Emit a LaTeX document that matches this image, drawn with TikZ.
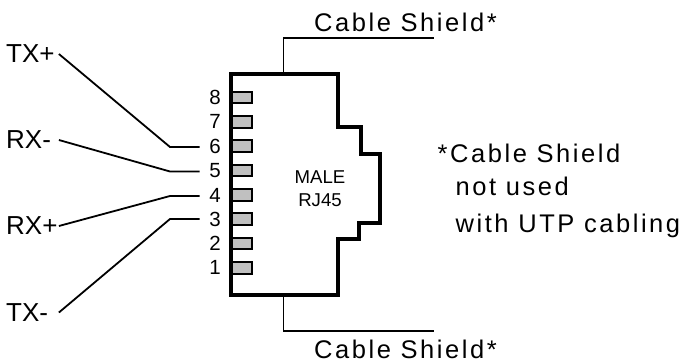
\documentclass[tikz,border=0pt]{standalone}
\usepackage{fontspec}
\setmainfont{Liberation Sans}
\newfontfamily\widefont[LetterSpace=10]{Liberation Sans}
\usetikzlibrary{positioning}
\definecolor{pincolor}{RGB}{192, 192, 192}

\begin{document}
\begin{tikzpicture}[
    x=1pt, y=-1pt,
    pin/.style={draw=black, fill=pincolor, line width=2pt, minimum width=19.5pt, minimum height=11.7pt, inner sep=0pt, outer sep=0pt},
    pinnum/.style={font=\fontsize{20.5}{22}\selectfont, inner sep=0pt, text width=21pt, align=right},
    signal/.style={font=\fontsize{26}{27}\selectfont, inner sep=0pt, text width=52.5pt, align=left},
    shieldlabel/.style={font=\fontsize{25.5}{27}\widefont, inner sep=0pt},
    wire/.style={line width=1.8pt, line join=miter},
    body/.style={line width=4pt, miter limit=10}
]
    \useasboundingbox (0, 0) rectangle (684, 362);

    % Pins
    \foreach \n/\y in {8/97.5, 7/121.7, 6/146, 5/170.5, 4/195, 3/219.3, 2/243.5, 1/267.7} {
        \node[pin] (pin\n) at (241.9, \y) {};
        \node[pinnum, anchor=east] (num\n) at (221, \y) {\n};
    }

    % Connector body
    \draw[body] (231, 73.5) -- (337.5, 73.5) -- (337.5, 127) -- (361, 127) -- (361, 154) -- (380, 154)
        -- (380, 222.5) -- (359, 222.5) -- (359, 239) -- (337.5, 239) -- (337.5, 294.5) -- (231, 294.5) -- cycle;
    \node[font=\fontsize{18.6}{22.6}\selectfont, align=center, inner sep=0pt] (rjlabel) at (320, 188.5) {MALE\\RJ45};

    % Signals
    \node[signal, anchor=west] (txp) at (6, 54) {TX+};
    \node[signal, anchor=west] (rxm) at (6, 140) {RX-};
    \node[signal, anchor=west] (rxp) at (6, 226) {RX+};
    \node[signal, anchor=west] (txm) at (6, 312.5) {TX-};

    \coordinate (bend6) at (170, 147);
    \coordinate (bend5) at (170, 171.5);
    \coordinate (bend4) at (170, 196);
    \coordinate (bend3) at (170, 219);

    \draw[wire] (txp.east) -- (bend6) -- (bend6 -| num6.west);
    \draw[wire] (rxm.east) -- (bend5) -- (bend5 -| num5.west);
    \draw[wire] (rxp.east) -- (bend4) -- (bend4 -| num4.west);
    \draw[wire] (txm.east) -- (bend3) -- (bend3 -| num3.west);

    % Shield
    \coordinate (shieldtop) at (283.5, 73.5);
    \coordinate (shieldbot) at (283.5, 294.5);
    \coordinate (shieldtopend) at (433.5, 37.7);
    \coordinate (shieldbotend) at (433.5, 331);
    \draw[wire] (shieldtop) |- (shieldtopend);
    \draw[wire] (shieldbot) |- (shieldbotend);
    \node[shieldlabel, anchor=base west] (toplabel) at (314, 31.7) {Cable Shield*};
    \node[shieldlabel, anchor=base west] (botlabel) at (314, 358) {Cable Shield*};

    % Note
    \node[shieldlabel, anchor=base west] (note1) at (437.5, 162) {*Cable Shield};
    \node[shieldlabel, anchor=base west] (note2) at (455.5, 195) {not used};
    \node[shieldlabel, anchor=base west] (note3) at (455.5, 232) {with UTP cabling};
\end{tikzpicture}
\end{document}
